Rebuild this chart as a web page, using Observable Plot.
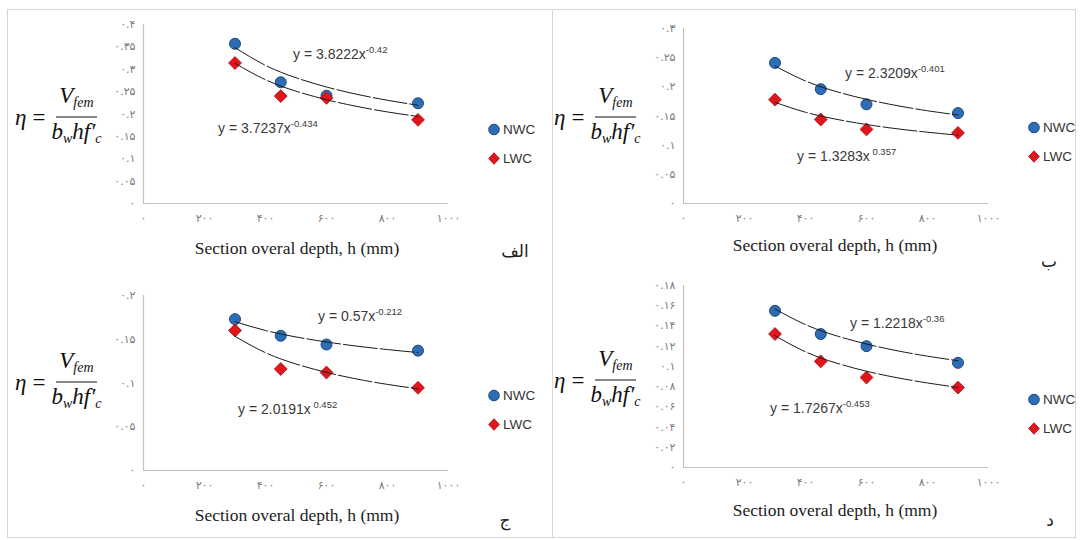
<!DOCTYPE html>
<html><head><meta charset="utf-8">
<script src="https://cdn.jsdelivr.net/npm/d3@7"></script>
<script src="https://cdn.jsdelivr.net/npm/@observablehq/plot@0.6"></script>
<style>
body{margin:0;background:#fff;}
#wrap{position:relative;width:1081px;height:540px;background:#fff;overflow:hidden;}
.abs{position:absolute;}
.plotbox{position:absolute;}
.frame{position:absolute;border:1px solid #d6d6d6;}
.ytitle{position:absolute;display:flex;align-items:center;transform:translateY(-50%);font-family:"Liberation Serif",serif;font-style:italic;font-size:23px;color:#111;white-space:nowrap;}
.ytitle .eq{font-style:normal;margin:0 6px 0 6px;}
.frac{display:inline-flex;flex-direction:column;align-items:center;}
.frac .num{border-bottom:1px solid #111;padding:0 3px 1px 3px;line-height:26px;}
.frac .den{line-height:26px;padding-top:1px;}
.frac sub{font-size:14px;vertical-align:-4px;}
.xtitle{position:absolute;transform:translate(-50%,-50%);font-family:"Liberation Serif",serif;font-size:17.5px;color:#222;white-space:nowrap;}
.eqn{position:absolute;transform:translateY(-50%);font-family:"Liberation Sans",sans-serif;font-size:14px;color:#3a3a3a;white-space:nowrap;}
.eqn sup{font-size:9.5px;vertical-align:6px;}
.leg{position:absolute;display:flex;align-items:center;transform:translateY(-50%);font-family:"Liberation Sans",sans-serif;font-size:13.5px;color:#333;}
.leg svg{margin-right:2px;}
.letter{position:absolute;transform:translate(-50%,-50%);font-family:"DejaVu Sans",sans-serif;font-size:17px;color:#222;}
</style></head>
<body><div id="wrap"></div>
<script>
// ---- data ----
const depths = [300, 450, 600, 900];
const xTicks = [0, 200, 400, 600, 800, 1000];
const xTickLabels = ["۰", "۲۰۰", "۴۰۰", "۶۰۰", "۸۰۰", "۱۰۰۰"];

const nwcA = [0.357, 0.271, 0.241, 0.224];
const lwcA = [0.314, 0.240, 0.236, 0.187];
const nwcB = [0.241, 0.196, 0.170, 0.155];
const lwcB = [0.178, 0.144, 0.127, 0.121];
const nwcC = [0.173, 0.154, 0.144, 0.137];
const lwcC = [0.160, 0.116, 0.112, 0.0945];
const nwcD = [0.155, 0.132, 0.120, 0.1035];
const lwcD = [0.132, 0.105, 0.089, 0.079];

// trend-line values
const trendX = [300, 400, 500, 600, 700, 800, 900];
const trendNwcA = [0.3483, 0.3087, 0.2810, 0.2603, 0.2440, 0.2307, 0.2195];
const trendLwcA = [0.3133, 0.2765, 0.2510, 0.2319, 0.2169, 0.2046, 0.1945];
const trendNwcB = [0.2357, 0.2100, 0.1920, 0.1785, 0.1678, 0.1590, 0.1517];
const trendLwcB = [0.1734, 0.1564, 0.1445, 0.1354, 0.1281, 0.1222, 0.1171];
const trendNwcC = [0.1701, 0.1600, 0.1526, 0.1469, 0.1421, 0.1382, 0.1348];
const trendLwcC = [0.1533, 0.1346, 0.1217, 0.1121, 0.1045, 0.0984, 0.0933];
const trendNwcD = [0.1568, 0.1413, 0.1304, 0.1221, 0.1155, 0.1101, 0.1056];
const trendLwcD = [0.1303, 0.1144, 0.1034, 0.0952, 0.0888, 0.0836, 0.0792];

const yTicksA = [0, 0.05, 0.1, 0.15, 0.2, 0.25, 0.3, 0.35, 0.4];
const yLabelsA = ["۰", "۰.۰۵", "۰.۱", "۰.۱۵", "۰.۲", "۰.۲۵", "۰.۳", "۰.۳۵", "۰.۴"];
const yTicksB = [0, 0.05, 0.1, 0.15, 0.2, 0.25, 0.3];
const yLabelsB = ["۰", "۰.۰۵", "۰.۱", "۰.۱۵", "۰.۲", "۰.۲۵", "۰.۳"];
const yTicksC = [0, 0.05, 0.1, 0.15, 0.2];
const yLabelsC = ["۰", "۰.۰۵", "۰.۱", "۰.۱۵", "۰.۲"];
const yTicksD = [0, 0.02, 0.04, 0.06, 0.08, 0.1, 0.12, 0.14, 0.16, 0.18];
const yLabelsD = ["۰", "۰.۰۲", "۰.۰۴", "۰.۰۶", "۰.۰۸", "۰.۱", "۰.۱۲", "۰.۱۴", "۰.۱۶", "۰.۱۸"];

const seriesNames = ["NWC", "LWC"];
const eqNwc = [["3.8222", "-0.42"], ["2.3209", "-0.401"], ["0.57", "-0.212"], ["1.2218", "-0.36"]];
const eqLwc = [["3.7237", "-0.434"], ["1.3283", " 0.357"], ["2.0191", " 0.452"], ["1.7267", "-0.453"]];
const xTitle = "Section overal depth, h (mm)";
const panelLetters = ["الف", "ب", "ج", "د"];

const BLUE = "#2d6db4", BLUE_S = "#1b4a80", RED = "#e0161c", RED_S = "#a50d10";

// ---- layout ----
const wrap = document.getElementById("wrap");
function el(tag, cls, style, html){const e=document.createElement(tag); if(cls)e.className=cls; Object.assign(e.style, style||{}); if(html!=null)e.innerHTML=html; wrap.appendChild(e); return e;}

el("div","frame",{left:"7px",top:"9px",width:"1067px",height:"527px"});
el("div","abs",{left:"552px",top:"9px",width:"1px",height:"528px",background:"#d6d6d6"});

const panels = [
  {left:0, top:0, w:552, h:240, mt:24, mb:37, ml:143, mr:104, ymax:0.4, yt:yTicksA, yl:yLabelsA, n:nwcA, l:lwcA, tn:trendNwcA, tl:trendLwcA,
   eqN:[293,53], eqL:[218,127], legX:487, legY:[129,158], yT:[15,117], xT:[297,248], let:[515,251]},
  {left:540, top:0, w:541, h:240, mt:28, mb:37, ml:143, mr:93, ymax:0.3, yt:yTicksB, yl:yLabelsB, n:nwcB, l:lwcB, tn:trendNwcB, tl:trendLwcB,
   eqN:[845,72], eqL:[797,155], legX:1027, legY:[127,156], yT:[554,117], xT:[835,245], let:[1049,261]},
  {left:0, top:270, w:552, h:240, mt:25, mb:40, ml:143, mr:104, ymax:0.2, yt:yTicksC, yl:yLabelsC, n:nwcC, l:lwcC, tn:trendNwcC, tl:trendLwcC,
   eqN:[318,315], eqL:[238,408], legX:487, legY:[395,424], yT:[15,382], xT:[297,515], let:[505,520]},
  {left:540, top:270, w:541, h:240, mt:15, mb:43, ml:143, mr:93, ymax:0.18, yt:yTicksD, yl:yLabelsD, n:nwcD, l:lwcD, tn:trendNwcD, tl:trendLwcD,
   eqN:[850,322], eqL:[770,407], legX:1027, legY:[399,428], yT:[554,380], xT:[835,510], let:[1050,520]}
];

function marker(kind){
  return kind==="NWC"
   ? `<svg width="14" height="14"><circle cx="7" cy="7" r="5.3" fill="${BLUE}" stroke="${BLUE_S}" stroke-width="1"/></svg>`
   : `<svg width="14" height="14"><path d="M7 1.2 L12.3 7 L7 12.8 L1.7 7 Z" fill="${RED}" stroke="${RED_S}" stroke-width="0.8"/></svg>`;
}

panels.forEach((p, i) => {
  const nRows = depths.map((d,k)=>({x:d, y:p.n[k]}));
  const lRows = depths.map((d,k)=>({x:d, y:p.l[k]}));
  const tnRows = trendX.map((d,k)=>({x:d, y:p.tn[k]}));
  const tlRows = trendX.map((d,k)=>({x:d, y:p.tl[k]}));
  const chart = Plot.plot({
    width:p.w, height:p.h, marginTop:p.mt, marginBottom:p.mb, marginLeft:p.ml, marginRight:p.mr,
    style:{background:"transparent", fontFamily:"DejaVu Sans, sans-serif", fontSize:"11px", color:"#7a7a7a", overflow:"visible"},
    x:{domain:[0,1000]},
    y:{domain:[0,p.ymax]},
    marks:[
      Plot.axisX({ticks:xTicks, tickSize:0, tickPadding:11, tickFormat:d=>xTickLabels[xTicks.indexOf(d)], label:null}),
      Plot.axisY({ticks:p.yt, tickSize:0, tickPadding:8, tickFormat:d=>p.yl[p.yt.indexOf(d)], label:null}),
      Plot.ruleY([0], {stroke:"#c2c2c2", strokeWidth:1.2}),
      Plot.ruleX([0], {stroke:"#c2c2c2", strokeWidth:1.2}),
      Plot.dot(nRows, {x:"x", y:"y", r:5.5, fill:BLUE, stroke:BLUE_S, strokeWidth:1}),
      Plot.dot(lRows, {x:"x", y:"y", symbol:"diamond2", r:5.8, fill:RED, stroke:RED_S, strokeWidth:0.8}),
      Plot.line(tnRows, {x:"x", y:"y", curve:"natural", stroke:"#1a1a1a", strokeWidth:1, strokeDasharray:"34,3"}),
      Plot.line(tlRows, {x:"x", y:"y", curve:"natural", stroke:"#1a1a1a", strokeWidth:1, strokeDasharray:"34,3"})
    ]
  });
  const box = el("div","plotbox",{left:p.left+"px", top:p.top+"px"});
  box.appendChild(chart);

  el("div","eqn",{left:p.eqN[0]+"px", top:p.eqN[1]+"px"}, `y = ${eqNwc[i][0]}x<sup>${eqNwc[i][1]}</sup>`);
  el("div","eqn",{left:p.eqL[0]+"px", top:p.eqL[1]+"px"}, `y = ${eqLwc[i][0]}x<sup>${eqLwc[i][1]}</sup>`);

  seriesNames.forEach((s,k)=>{
    el("div","leg",{left:p.legX+"px", top:p.legY[k]+"px"}, marker(s)+`<span>${s}</span>`);
  });

  el("div","ytitle",{left:p.yT[0]+"px", top:p.yT[1]+"px"},
    `<span>η</span><span class="eq">=</span><span class="frac"><span class="num">V<sub>fem</sub></span><span class="den">b<sub>w</sub>hf′<sub>c</sub></span></span>`);
  el("div","xtitle",{left:p.xT[0]+"px", top:p.xT[1]+"px"}, xTitle);
  el("div","letter",{left:p.let[0]+"px", top:p.let[1]+"px"}, panelLetters[i]);
});
</script>
</body></html>
